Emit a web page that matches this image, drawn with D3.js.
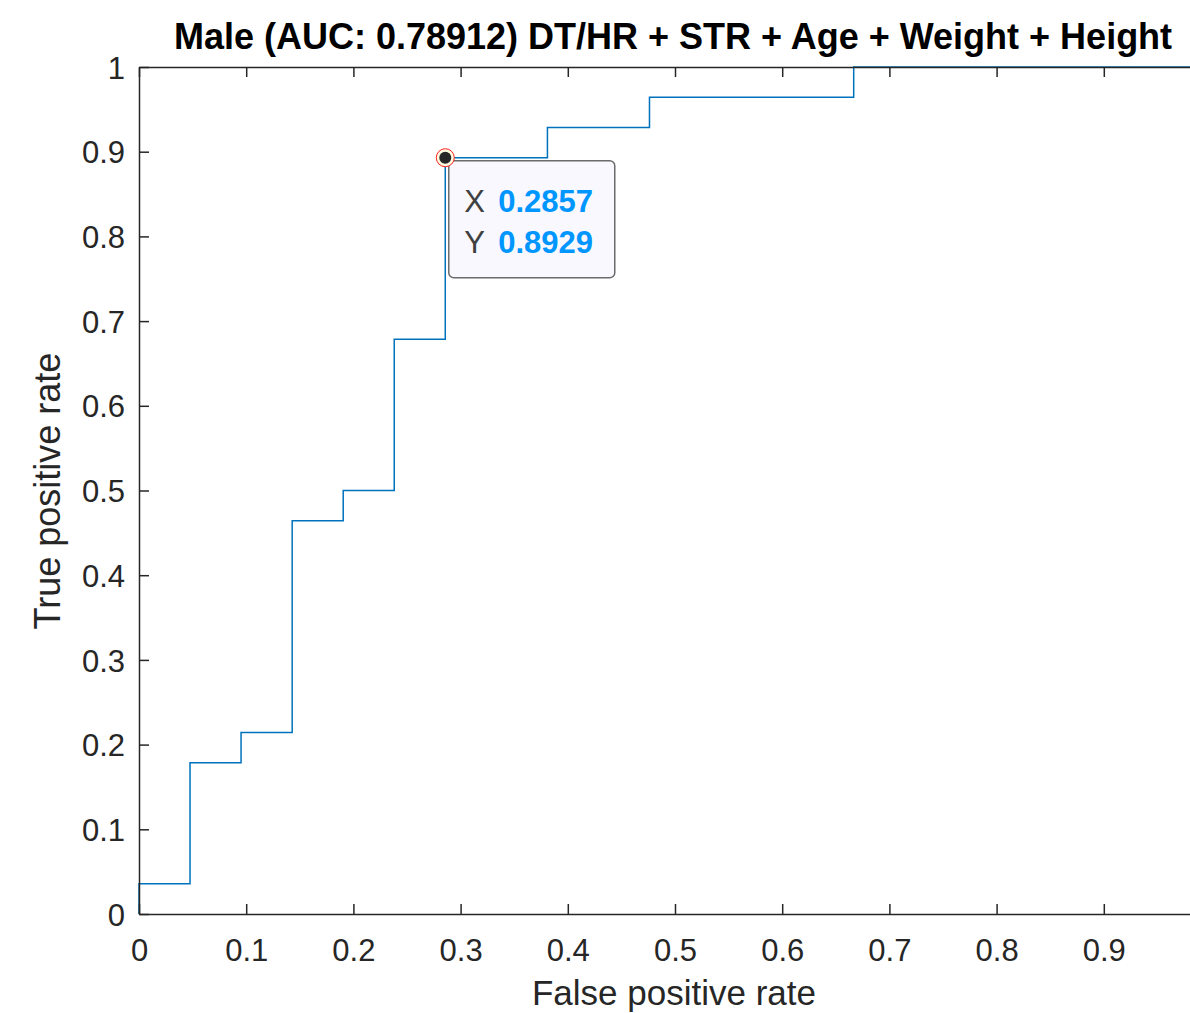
<!DOCTYPE html>
<html>
<head>
<meta charset="utf-8">
<script src="https://cdn.jsdelivr.net/npm/d3@7"></script>
<style>
  body { margin: 0; background: #fff; overflow: hidden; }
  text { font-family: "Liberation Sans", Arial, sans-serif; }
</style>
</head>
<body>
<div id="chart"></div>
<script>
// ROC curve points (false positive rate, true positive rate)
const fpr = [0, 0, 0.0476, 0.0476, 0.0952, 0.0952, 0.1429, 0.1429, 0.1905, 0.1905,
  0.2381, 0.2381, 0.2857, 0.2857, 0.381, 0.381, 0.4762, 0.4762, 0.6667, 0.6667, 1];
const tpr = [0, 0.0357, 0.0357, 0.1786, 0.1786, 0.2143, 0.2143, 0.4643, 0.4643, 0.5,
  0.5, 0.6786, 0.6786, 0.8929, 0.8929, 0.9286, 0.9286, 0.9643, 0.9643, 1, 1];
const xTicks = [0, 0.1, 0.2, 0.3, 0.4, 0.5, 0.6, 0.7, 0.8, 0.9, 1];
const yTicks = [0, 0.1, 0.2, 0.3, 0.4, 0.5, 0.6, 0.7, 0.8, 0.9, 1];
const tipX = 0.2857, tipY = 0.8929;
const titleText = "Male (AUC: 0.78912) DT/HR + STR + Age + Weight + Height";

const width = 1190, height = 1013;
const mLeft = 139, mRight = 1211, mTop = 67, mBottom = 914;
const AXIS = "#262626";

let svg = d3.select("#chart").append("svg")
  .attr("width", width).attr("height", height);

let x = d3.scaleLinear().domain([0, 1]).range([mLeft, mRight]);
let y = d3.scaleLinear().domain([0, 1]).range([mBottom, mTop]);

// curve
let pts = fpr.map((v, i) => [v, tpr[i]]);
svg.append("path")
  .datum(pts)
  .attr("d", d3.line().x(d => x(d[0])).y(d => y(d[1])))
  .attr("fill", "none")
  .attr("stroke", "#0072BD")
  .attr("stroke-width", 1.5);

// axes (ticks inside, MATLAB style)
let fmt = d => d === 0 ? "0" : d === 1 ? "1" : d3.format(".1f")(d);
// the x=1 label sits past the window edge in the original, so leave it blank
let fmtX = d => d === 1 ? "" : fmt(d);

let gx = svg.append("g").attr("transform", `translate(0,${mBottom})`)
  .call(d3.axisBottom(x).tickValues(xTicks).tickFormat(fmtX).tickSizeInner(-10).tickSizeOuter(0).tickPadding(25));
let gxt = svg.append("g").attr("transform", `translate(0,${mTop})`)
  .call(d3.axisTop(x).tickValues(xTicks).tickFormat("").tickSizeInner(-10).tickSizeOuter(0));
let gy = svg.append("g").attr("transform", `translate(${mLeft},0)`)
  .call(d3.axisLeft(y).tickValues(yTicks).tickFormat(fmt).tickSizeInner(-10).tickSizeOuter(0).tickPadding(14));

[gx, gxt, gy].forEach(g => {
  g.select(".domain").attr("stroke", AXIS).attr("stroke-width", 1.5);
  g.selectAll(".tick line").attr("stroke", AXIS).attr("stroke-width", 1.5);
  g.selectAll(".tick text").attr("fill", AXIS).attr("font-size", 31)
    .attr("font-family", "Liberation Sans, Arial, sans-serif");
});
gy.selectAll(".tick text").attr("dy", "0.36em");

// labels
svg.append("text")
  .attr("x", (mLeft + mRight) / 2 - 1).attr("y", 1005)
  .attr("text-anchor", "middle").attr("font-size", 35).attr("fill", AXIS)
  .text("False positive rate");
svg.append("text")
  .attr("transform", `translate(60,491) rotate(-90)`)
  .attr("text-anchor", "middle").attr("font-size", 36).attr("fill", AXIS)
  .text("True positive rate");
svg.append("text")
  .attr("x", 673).attr("y", 49)
  .attr("text-anchor", "middle").attr("font-size", 36).attr("font-weight", "bold")
  .attr("fill", "#000")
  .text(titleText);

// datatip
let tx = x(tipX), ty = y(tipY);
svg.append("rect")
  .attr("x", tx + 3.5).attr("y", ty + 3)
  .attr("width", 166).attr("height", 117)
  .attr("rx", 5)
  .attr("fill", "#f8f8fe").attr("stroke", "#6b6b6b").attr("stroke-width", 1.5);
svg.append("circle").attr("cx", tx).attr("cy", ty).attr("r", 9)
  .attr("fill", "#fffbe0").attr("stroke", "#ff2020").attr("stroke-width", 1);
svg.append("circle").attr("cx", tx).attr("cy", ty).attr("r", 6)
  .attr("fill", "#262626");

let tip = svg.append("g").attr("font-size", 31);
[["X", tipX, ty + 54], ["Y", tipY, ty + 95]].forEach(r => {
  let t = tip.append("text").attr("x", tx + 19).attr("y", r[2]).attr("fill", "#404040");
  t.append("tspan").text(r[0]);
  t.append("tspan").attr("x", tx + 53).attr("font-weight", "bold").attr("fill", "#0096FF").text(r[1].toFixed(4));
});
</script>
</body>
</html>
